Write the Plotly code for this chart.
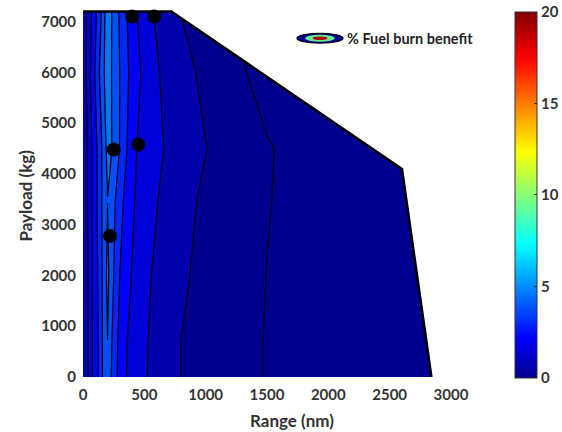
import plotly.graph_objects as go

# Fuel burn benefit (%) over the payload-range grid
range_nm = [0, 40, 75, 115, 155, 180, 200, 220, 260, 300, 360, 440,
            560, 650, 800, 1000, 1300, 1500, 2000, 2500, 3000]
payload_kg = [0, 600, 2000, 3500, 4500, 6000, 7200]
benefit_pct = [
    [0.50, 1.15, 1.98, 2.58, 3.54, 4.02, 4.25, 3.80, 3.03, 2.52, 1.96, 1.55,
     1.05, 0.80, 0.39, 0.15, -0.20, -0.44, -0.80, -0.95, -1.05],
    [0.50, 1.18, 1.98, 2.60, 3.54, 4.02, 4.38, 3.89, 3.09, 2.57, 1.99, 1.58,
     1.07, 0.82, 0.39, 0.16, -0.20, -0.44, -0.80, -0.95, -1.05],
    [0.50, 1.19, 1.99, 2.68, 3.58, 4.15, 4.60, 4.18, 3.42, 2.79, 2.20, 1.73,
     1.19, 0.93, 0.51, 0.20, -0.17, -0.41, -0.80, -0.95, -1.05],
    [0.55, 1.27, 2.04, 2.82, 3.62, 4.08, 4.39, 4.18, 3.64, 3.12, 2.46, 1.87,
     1.38, 1.07, 0.65, 0.26, -0.12, -0.37, -0.75, -0.90, -1.00],
    [0.55, 1.27, 2.04, 2.82, 3.62, 4.27, 4.58, 4.58, 4.08, 3.57, 2.78, 1.99,
     1.56, 1.23, 0.88, 0.42, -0.02, -0.36, -0.70, -0.90, -1.00],
    [0.60, 1.52, 2.34, 3.20, 4.06, 4.53, 4.80, 4.55, 4.07, 3.59, 2.91, 2.18,
     1.47, 1.09, 0.68, 0.21, -0.36, -0.60, -0.85, -0.95, -1.05],
    [0.60, 1.40, 2.10, 2.90, 3.73, 4.42, 4.72, 4.60, 4.04, 3.49, 2.79, 1.99,
     1.26, 0.91, 0.38, -0.07, -0.55, -0.65, -0.85, -0.95, -1.05],
]

# Payload-range envelope (upper/right boundary)
env_range = [0, 720, 2600, 2840]
env_payload = [7200, 7200, 4100, 0]

# Mission points
mission_range = [400, 580, 250, 450, 220]
mission_payload = [7100, 7100, 4480, 4580, 2780]

x_ticks = [0, 500, 1000, 1500, 2000, 2500, 3000]
y_ticks = [0, 1000, 2000, 3000, 4000, 5000, 6000, 7000]
cbar_ticks = [0, 5, 10, 15, 20]

# MATLAB-style jet colormap
jet_stops = [(0.0, (0, 0, 143)), (0.111, (0, 0, 255)), (0.365, (0, 255, 255)),
             (0.619, (255, 255, 0)), (0.873, (255, 0, 0)), (1.0, (128, 0, 0))]
rgb = lambda c: "rgb(%d,%d,%d)" % c
jet_scale = [[f, rgb(c)] for f, c in jet_stops]

# Contour fill colours: bands at or below zero stay at the bottom jet colour
lev_start, lev_size, lev_end = -1.2, 0.8, 19.6
lo, hi, shift = lev_start - lev_size / 2, lev_end + lev_size / 2, 0.2
contour_scale = [[0.0, rgb(jet_stops[0][1])]]
for f, c in jet_stops[:-1]:
    contour_scale.append([(20 * f + shift - lo) / (hi - lo), rgb(c)])
contour_scale.append([1.0, rgb(jet_stops[-1][1])])

fig = go.Figure()

fig.add_trace(go.Contour(
    x=range_nm, y=payload_kg, z=benefit_pct,
    autocontour=False,
    contours=dict(start=lev_start, end=lev_end, size=lev_size,
                  coloring="fill", showlines=True),
    line=dict(color="black", width=1.2, smoothing=0),
    colorscale=contour_scale, showscale=False, hoverinfo="skip",
))

# Blank out the region beyond the envelope
mask_x = env_range[1:] + [3200, 3200, env_range[1]]
mask_y = env_payload[1:] + [0, 7500, 7500]
fig.add_trace(go.Scatter(
    x=mask_x, y=mask_y, mode="lines", fill="toself",
    fillcolor="white", line=dict(width=0, color="white"),
    showlegend=False, hoverinfo="skip",
))

# Envelope outline
fig.add_trace(go.Scatter(
    x=env_range, y=env_payload, mode="lines",
    line=dict(color="black", width=2.6),
    showlegend=False, hoverinfo="skip",
))

# Mission markers
fig.add_trace(go.Scatter(
    x=mission_range, y=mission_payload, mode="markers",
    marker=dict(color="black", size=14),
    cliponaxis=False, showlegend=False, hoverinfo="skip",
))

# Continuous colour bar
fig.add_trace(go.Scatter(
    x=[None], y=[None], mode="markers",
    marker=dict(color=[0], cmin=0, cmax=20, colorscale=jet_scale,
                showscale=True,
                colorbar=dict(
                    x=1.174, xanchor="left", xpad=0,
                    y=0.4946, yanchor="middle", ypad=0,
                    len=0.995, lenmode="fraction",
                    thickness=22, outlinewidth=1, outlinecolor="#333",
                    tickvals=cbar_ticks, ticks="inside", ticklen=3,
                    tickcolor="#333",
                    tickfont=dict(family="Lato", size=15, color="#333",
                                  weight=700),
                )),
    showlegend=False, hoverinfo="skip",
))

tickfont = dict(family="Lato", size=15, color="#333", weight=700)
fig.update_xaxes(range=[0, 3000], tickvals=x_ticks, showgrid=False,
                 zeroline=False, showline=False, ticks="",
                 tickfont=tickfont, ticklabelstandoff=7)
fig.update_yaxes(range=[0, 7250], tickvals=y_ticks, showgrid=False,
                 zeroline=False, showline=False, ticks="",
                 tickfont=tickfont, ticklabelstandoff=6)

title_font = dict(family="Lato", size=17, color="#333", weight=700)
fig.add_annotation(text="Range (nm)", xref="paper", yref="paper",
                   x=0.568, y=-0.117, xanchor="center", yanchor="middle",
                   showarrow=False, font=title_font)
fig.add_annotation(text="Payload (kg)", xref="paper", yref="paper",
                   x=-0.155, y=0.493, xanchor="center", yanchor="middle",
                   textangle=-90, showarrow=False, font=title_font)

# Legend key: nested ellipses with label
fig.add_shape(type="circle", xref="paper", yref="paper",
              x0=0.5815, x1=0.7065, y0=0.9070, y1=0.9340,
              fillcolor="rgb(0,0,150)", line=dict(color="black", width=1.2))
fig.add_shape(type="circle", xref="paper", yref="paper",
              x0=0.6040, x1=0.6840, y0=0.9110, y1=0.9300,
              fillcolor="rgb(110,230,140)", line=dict(width=0))
fig.add_shape(type="circle", xref="paper", yref="paper",
              x0=0.6240, x1=0.6640, y0=0.9155, y1=0.9255,
              fillcolor="rgb(170,0,0)", line=dict(width=0))
fig.add_annotation(text="% Fuel burn benefit", xref="paper", yref="paper",
                   x=0.712, y=0.921, xanchor="left", yanchor="middle",
                   showarrow=False,
                   font=dict(family="Lato", size=14.5, color="#222",
                             weight=700))

fig.update_layout(
    width=562, height=432,
    margin=dict(l=83, r=111, t=9, b=55, autoexpand=False),
    paper_bgcolor="white", plot_bgcolor="white",
    showlegend=False,
)

fig.write_html("out.html")
